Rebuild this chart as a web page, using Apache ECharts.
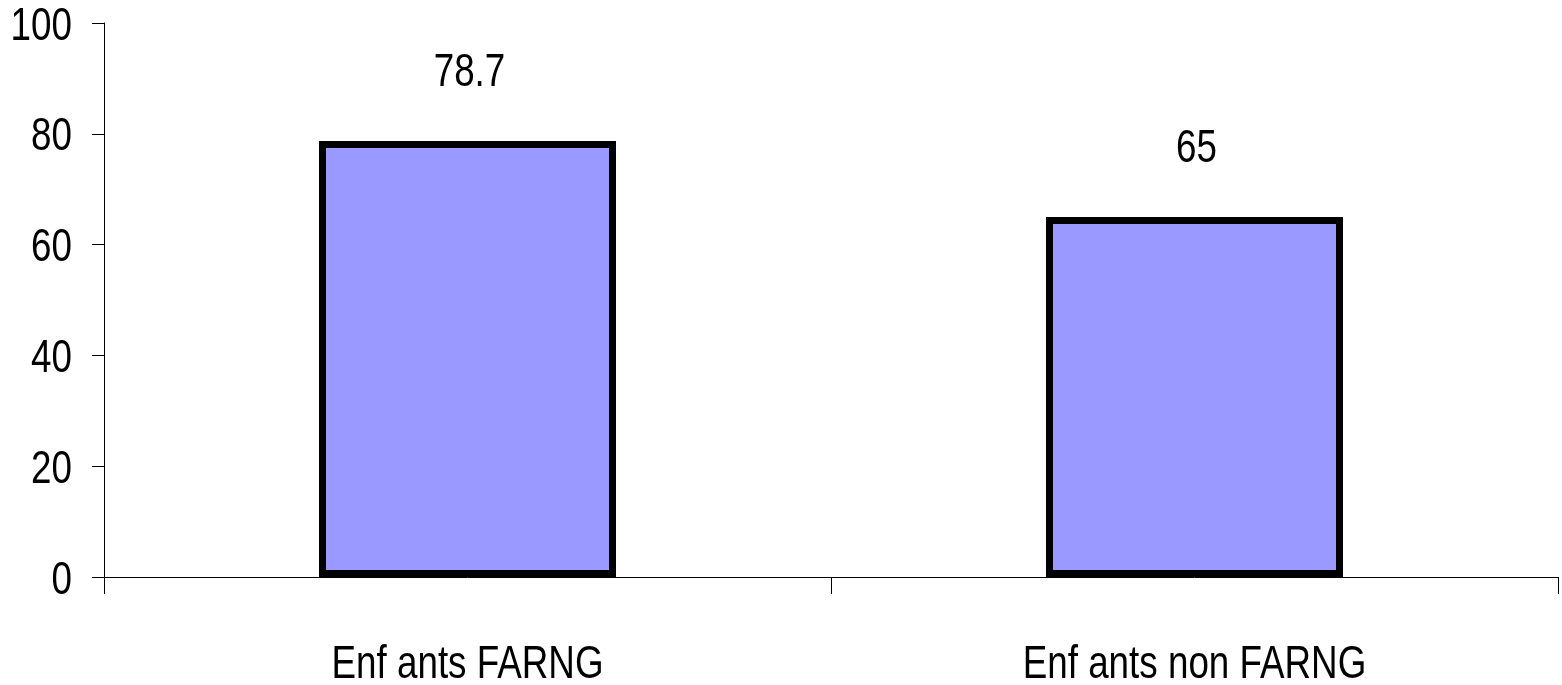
<!DOCTYPE html>
<html>
<head>
<meta charset="utf-8">
<script src="https://cdn.jsdelivr.net/npm/echarts@6/dist/echarts.min.js"></script>
<style>
  html, body { margin: 0; padding: 0; background: #fff; }
  #chart { width: 1562px; height: 685px; }
</style>
</head>
<body>
<div id="chart"></div>
<script>
const categories = ['Enf ants FARNG', 'Enf ants non FARNG']
const values = [78.7, 65]
const yTicks = [0, 20, 40, 60, 80, 100]

// the reference uses a condensed face, so text is drawn squeezed
const font = "'Liberation Sans', Arial, sans-serif"
const fontSize = 46
const squeeze = 0.8

const myChart = echarts.init(document.getElementById('chart'))
myChart.setOption({
    animation: false,
    grid: {
        left: 104,
        right: 4,
        top: 23,
        bottom: 108
    },
    xAxis: {
        type: 'category',
        data: categories,
        axisLine: { lineStyle: { color: '#000', width: 1 } },
        axisTick: { show: true, length: 17, lineStyle: { color: '#000' } },
        axisLabel: { show: false }
    },
    yAxis: {
        type: 'value',
        min: yTicks[0],
        max: yTicks[yTicks.length - 1],
        interval: 20,
        axisLine: { show: true, lineStyle: { color: '#000', width: 1 } },
        axisTick: { show: true, length: 12, lineStyle: { color: '#000' } },
        splitLine: { show: false },
        axisLabel: { show: false }
    },
    series: [{
        type: 'bar',
        data: values,
        barWidth: 297,
        itemStyle: {
            color: '#9999ff',
            borderColor: '#000',
            borderWidth: 7
        }
    }]
})

function text(str, x, y, align) {
    return {
        type: 'text',
        x: x,
        y: y,
        scaleX: squeeze,
        silent: true,
        style: {
            text: str,
            fill: '#000',
            font: fontSize + 'px ' + font,
            textAlign: align,
            textVerticalAlign: 'middle'
        }
    }
}

const labels = []
yTicks.forEach(t => {
    const p = myChart.convertToPixel({ gridIndex: 0 }, [0, t])
    labels.push(text(String(t), 104 - 32, p[1] + 4, 'right'))
})
categories.forEach((c, i) => {
    const p = myChart.convertToPixel({ gridIndex: 0 }, [i, 0])
    labels.push(text(c, p[0], p[1] + 88, 'center'))
})
values.forEach((v, i) => {
    const p = myChart.convertToPixel({ gridIndex: 0 }, [i, v])
    labels.push(text(String(v), p[0] + 2, p[1] - 68, 'center'))
})
myChart.setOption({ graphic: labels })
</script>
</body>
</html>
